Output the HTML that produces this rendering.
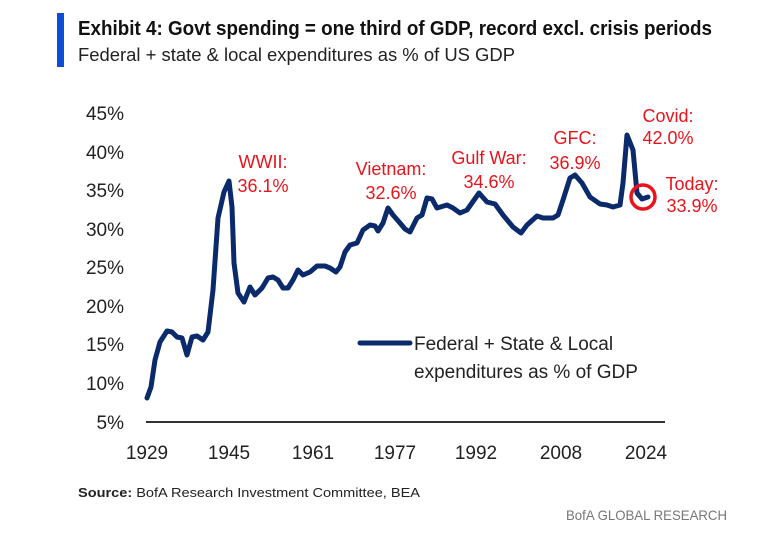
<!DOCTYPE html>
<html><head><meta charset="utf-8"><style>
html,body{margin:0;padding:0;background:#fff;}
svg{display:block;font-family:"Liberation Sans",sans-serif;}
</style></head><body>
<svg width="776" height="536" viewBox="0 0 776 536" xmlns="http://www.w3.org/2000/svg">
<rect width="776" height="536" fill="#fff"/>
<rect x="57" y="13" width="7" height="54" fill="#0a4fd6"/>
<text x="78" y="35" font-size="20" font-weight="bold" fill="#111" textLength="634" lengthAdjust="spacingAndGlyphs">Exhibit 4: Govt spending = one third of GDP, record excl. crisis periods</text>
<text x="78" y="61" font-size="18" fill="#222" textLength="437" lengthAdjust="spacingAndGlyphs">Federal + state &amp; local expenditures as % of US GDP</text>
<g font-size="19" fill="#222" text-anchor="end">
<text x="124" y="120">45%</text><text x="124" y="159">40%</text><text x="124" y="197">35%</text>
<text x="124" y="236">30%</text><text x="124" y="274">25%</text><text x="124" y="313">20%</text>
<text x="124" y="351">15%</text><text x="124" y="390">10%</text><text x="124" y="429">5%</text>
</g>
<line x1="146" y1="422" x2="665" y2="422" stroke="#333" stroke-width="2"/>
<g font-size="19" fill="#222" text-anchor="middle">
<text x="147" y="459">1929</text><text x="229" y="459">1945</text><text x="313" y="459">1961</text>
<text x="395" y="459">1977</text><text x="476" y="459">1992</text><text x="561" y="459">2008</text><text x="646" y="459">2024</text>
</g>
<polyline fill="none" stroke="#0b2a6b" stroke-width="5" stroke-linejoin="round" stroke-linecap="round" points="147,398 151,387 155,360 160,342 167,331 172,332 177,337 182,338 187,355 192,337 197,336 203,340 208,332 213,290 218,218 224,192 229,181 232,207 234,263 238,293 244,302 250,287 255,295 262,288 268,278 273,277 278,280 283,288 288,288 293,280 298,270 303,275 310,272 317,266 325,266 330,268 336,272 340,267 345,252 350,245 357,243 363,230 370,225 375,226 378,231 383,223 388,208 393,215 400,223 405,229 410,232 417,218 422,215 427,198 432,199 437,208 447,205 453,208 460,213 467,210 479,193 487,202 495,204 503,215 513,227 521,233 527,225 537,216 543,218 553,218 558,215 563,200 570,178 575,175 582,183 590,197 600,204 607,205 613,207 620,205 623,183 627,135 633,150 637,193 642,199 648,197"/>
<circle cx="643" cy="197" r="12" fill="none" stroke="#e8141c" stroke-width="3.5"/>
<g font-size="18" fill="#e8141c" text-anchor="middle">
<text x="263" y="168">WWII:</text><text x="263" y="192">36.1%</text>
<text x="391" y="175">Vietnam:</text><text x="391" y="199">32.6%</text>
<text x="489" y="164">Gulf War:</text><text x="489" y="188">34.6%</text>
<text x="575" y="144">GFC:</text><text x="575" y="169">36.9%</text>
<text x="668" y="122">Covid:</text><text x="668" y="144">42.0%</text>
<text x="692" y="190">Today:</text><text x="692" y="212">33.9%</text>
</g>
<line x1="360" y1="343" x2="410" y2="343" stroke="#0b2a6b" stroke-width="5" stroke-linecap="round"/>
<text x="414" y="350" font-size="19" fill="#222">Federal + State &amp; Local</text>
<text x="414" y="378" font-size="19" fill="#222">expenditures as % of GDP</text>
<text x="78" y="497" font-size="13" fill="#222" textLength="342" lengthAdjust="spacingAndGlyphs"><tspan font-weight="bold">Source:</tspan> BofA Research Investment Committee, BEA</text>
<text x="727" y="520" font-size="14" fill="#777" text-anchor="end" textLength="161" lengthAdjust="spacingAndGlyphs">BofA GLOBAL RESEARCH</text>
</svg>
</body></html>
